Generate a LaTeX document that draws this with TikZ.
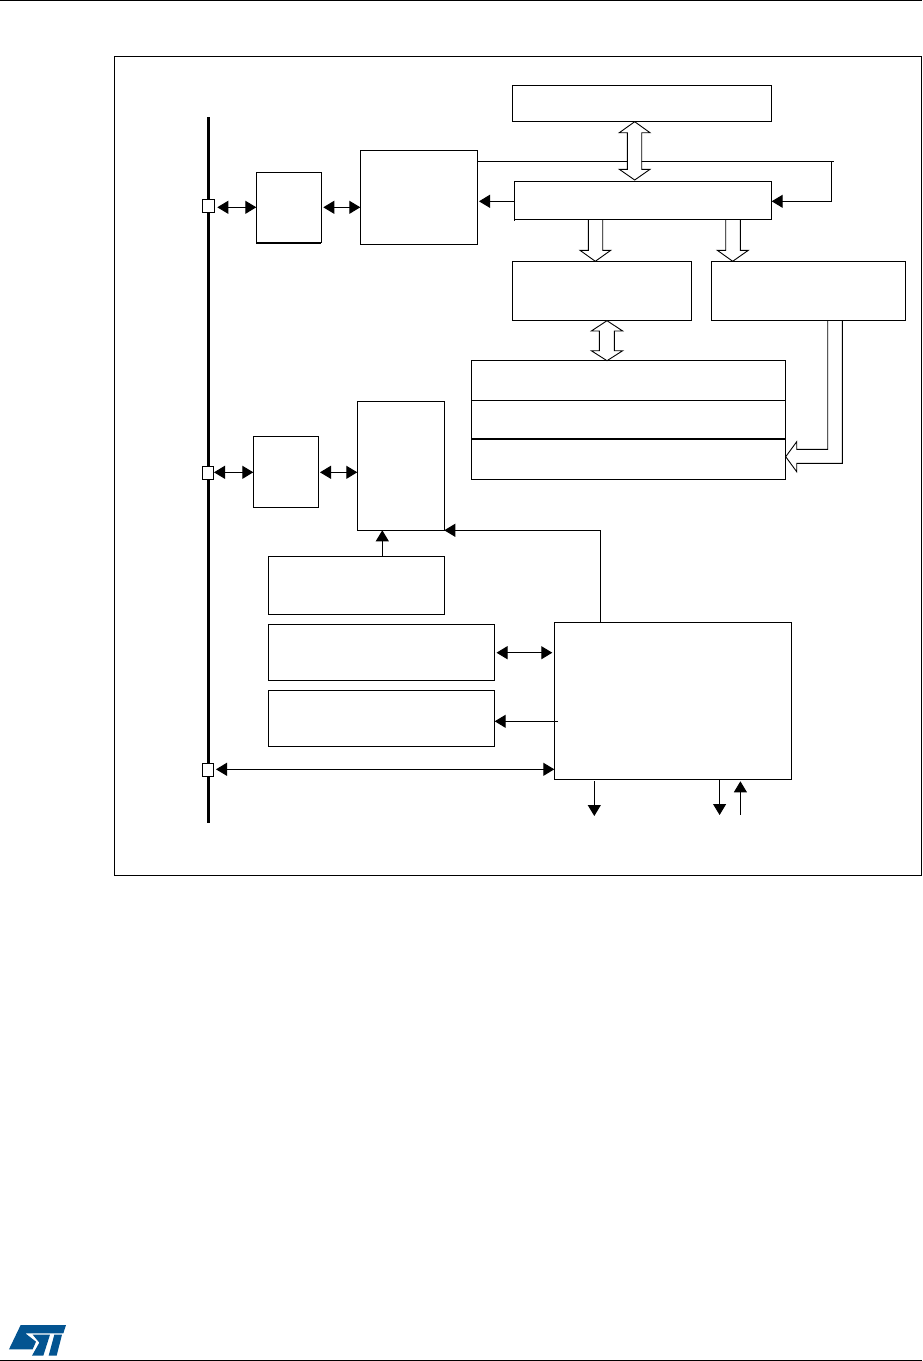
\documentclass[tikz,border=0pt]{standalone}
\usetikzlibrary{arrows.meta}
\definecolor{stblue}{RGB}{3,84,145}
\tikzset{
  blk/.style={draw=black,fill=white,line width=1pt,inner sep=0pt,outer sep=0pt,anchor=north west},
  conn/.style={draw=black,line width=1pt},
  one/.style={conn,-{Triangle[length=11pt,width=13pt]}},
  two/.style={conn,{Triangle[length=11pt,width=13pt]}-{Triangle[length=11pt,width=13pt]}},
  hollow/.style={draw=black,fill=white,line width=0.9pt,line join=miter},
  busline/.style={draw=black,line width=3pt},
  rule/.style={draw=black,line width=1pt}
}
\newcommand{\blk}[5]{\node[blk,minimum width=#4pt,minimum height=#5pt] (#1) at (#2,#3) {};}
\begin{document}
\begin{tikzpicture}[x=1pt,y=-1pt]
\useasboundingbox (0,0) rectangle (922,1361);
% page rules
\coordinate (tl) at (0,0.6); \coordinate (tr) at (922,0.6);
\coordinate (bl) at (0,1360.3); \coordinate (br) at (922,1360.3);
\draw[rule] (tl) -- (tr);
\draw[rule] (bl) -- (br);
% frame
\blk{frame}{114.5}{56.5}{806.5}{819.2}
% bus
\coordinate (bustop) at (208.3,117);
\coordinate (busbot) at (208.3,822.7);
\draw[busline] (bustop) -- (busbot);
% block arrows that butt against box edges
\draw[hollow] (588.3,219.3) -- (588.3,250.3) -- (580,250.3) -- (595.3,261.3) -- (610.7,250.3) -- (602.7,250.3) -- (602.7,219.3);
\draw[hollow] (725.7,219.3) -- (725.7,250.3) -- (717.3,250.3) -- (732.7,261.3) -- (748.3,250.3) -- (740.3,250.3) -- (740.3,219.3);
\draw[hollow] (827.7,320.3) -- (827.7,449.3) -- (796.7,449.3) -- (796.7,441.7) -- (785.7,456.7) -- (796.7,471.7) -- (796.7,463.3) -- (842.3,463.3) -- (842.3,320.3);
% blocks
\blk{top}{512.3}{85.3}{259.4}{36}
\blk{mid}{514.3}{181.3}{257.4}{38}
\blk{lo}{512.3}{261.3}{179.4}{59}
\blk{ro}{711.3}{261.3}{194.4}{59}
\blk{mone}{360.3}{150.3}{117}{94}
\blk{sone}{256.3}{172.3}{65}{70.4}
\blk{stacka}{471.3}{360.3}{314.4}{40}
\blk{stackb}{471.3}{400.3}{314.4}{38.4}
\blk{stackc}{471.3}{438.7}{314.4}{40.6}
\blk{stwo}{253.3}{436.3}{65}{71}
\blk{mtwo}{357.3}{401.3}{87}{129}
\blk{bseven}{268.3}{556.3}{176}{58}
\blk{beight}{268.6}{624.4}{226.1}{56.4}
\blk{bnine}{268.6}{690.4}{226.1}{56.4}
\blk{big}{554.3}{622.3}{237.1}{157.4}
\blk{portone}{202.3}{199.3}{12.4}{13.4}
\blk{porttwo}{202.3}{466.3}{11.4}{13.4}
\blk{portthree}{202.4}{763.3}{11.1}{13}
% thick edges
\draw[conn,line width=2pt] (stackb.south west) -- (stackb.south east);
\draw[conn,line width=1.6pt] (sone.south west) -- (sone.south east);
\coordinate (midstub) at (514.3,221);
\draw[conn] (mid.south west) -- (midstub);
% reference levels
\coordinate (ya) at (0,207.3);
\coordinate (yb) at (0,472.3);
\coordinate (yc) at (0,652.7);
\coordinate (yd) at (0,721.3);
\coordinate (ye) at (0,769.3);
\coordinate (yf) at (0,201.3);
\coordinate (yg) at (0,161.3);
\coordinate (xa) at (382.3,0);
\coordinate (xb) at (600.4,0);
\coordinate (xc) at (594.3,0);
\coordinate (xd) at (719.6,0);
\coordinate (xe) at (740.4,0);
\coordinate (xf) at (831.7,0);
\coordinate (xg) at (833.7,0);
\coordinate (yh) at (0,816);
\coordinate (yi) at (0,815);
\coordinate (yj) at (0,781.3);
\coordinate (bigin) at (558,721.3);
% connectors
\draw[two,shorten <=2.6pt] (portone.east |- ya) -- (sone.west |- ya);
\draw[two,shorten <=2pt] (sone.east |- ya) -- (mone.west |- ya);
\draw[two,shorten <=0.3pt] (porttwo.east |- yb) -- (stwo.west |- yb);
\draw[two,shorten <=1.7pt] (stwo.east |- yb) -- (mtwo.west |- yb);
\draw[two,shorten <=1.8pt,shorten >=2pt] (beight.east |- yc) -- (big.west |- yc);
\draw[one] (bigin) -- (bnine.east |- yd);
\draw[two,shorten <=2.5pt] (portthree.east |- ye) -- (big.west |- ye);
\draw[one] (xa |- bseven.north) -- (xa |- mtwo.south);
\draw[one] (xb |- big.north) -- (xb |- mtwo.south) -- (mtwo.south east);
\draw[one] (xc |- yj) -- (xc |- yh);
\draw[one] (xd |- big.south) -- (xd |- yi);
\coordinate (upstart) at (740.4,814.7);
\draw[one] (upstart) -- (xe |- yj);
\draw[conn] (mone.east |- yg) -- (xg |- yg);
\draw[one] (xf |- yg) -- (xf |- yf) -- (mid.east |- yf);
\draw[one,shorten >=1.7pt] (mid.west |- yf) -- (mone.east |- yf);
% double block arrows
\draw[hollow] (634.7,121.7) -- (650,132.7) -- (641.7,132.7) -- (641.7,169.3) -- (650,169.3) -- (634.7,180) -- (619.3,169.3) -- (627.3,169.3) -- (627.3,132.7) -- (619.3,132.7) -- cycle;
\draw[hollow] (607,320.7) -- (622.7,331) -- (614.3,331) -- (614.3,350.7) -- (622.7,350.7) -- (607,360.7) -- (591.3,350.7) -- (599.3,350.7) -- (599.3,331) -- (591.3,331) -- cycle;
\draw[conn,line width=1.4pt] (614.3,331) -- (614.3,350.7);
% logo
\begin{scope}[shift={(0,1300)},x=0.3333pt,y=-0.3333pt]
\fill[stblue] (62,75) -- (198,75) -- (190,100) -- (76,100) -- (108,125) -- (98,148) -- (27,148) -- cycle;
\fill[stblue] (98,104) -- (150,104) -- (130,167) -- (96,167) -- (118,128) -- cycle;
\fill[stblue] (163,104) -- (186,104) -- (170,167) -- (146,167) -- cycle;
\end{scope}
\end{tikzpicture}
\end{document}
